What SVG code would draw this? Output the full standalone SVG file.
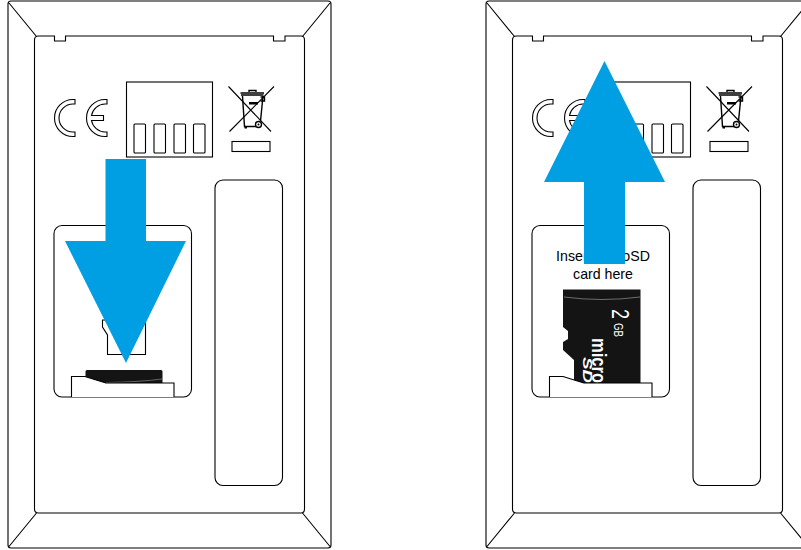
<svg xmlns="http://www.w3.org/2000/svg" width="801" height="550" viewBox="0 0 801 550">
<style>
.l{fill:none;stroke:#000;stroke-width:1.1}
.b{fill:none;stroke:#000;stroke-width:1.4}
.w{fill:#fff;stroke:#000;stroke-width:1.1}
.k{fill:#141414;stroke:none}
.a{fill:#009fe3;stroke:none}
.t{font-family:"Liberation Sans",Arial,sans-serif;font-size:14.2px;fill:#000;text-anchor:middle}
.c{font-family:"Liberation Sans",Arial,sans-serif;fill:#fff}
</style>
<defs>
<g id="panel">
<rect class="l" x="8" y="1" width="323" height="547" rx="3"/>
<path class="l" d="M9 3L36.500 36.500M330 3L302.500 36.500M9 546.500L36.500 513M330 546.500L302.500 513"/>
<path class="l" d="M38.500 36H54.500V41H65.500V36H273.500V41H285V36H301Q304.500 36 304.500 40V509Q304.500 513 301 513H38.500Q34.500 513 34.500 509V40Q34.500 36 38.500 36Z"/>
<path class="l" d="M75 99.500H73A18.500 18.500 0 0 0 73 136.500H75V132H73A14 14 0 0 1 73 104H75Z"/>
<path class="l" d="M107 99.500H105A18.500 18.500 0 0 0 105 136.500H107V132H105A14 14 0 0 1 91.500 120.500H103.500V115.500H91.500A14 14 0 0 1 105 104H107Z"/>
<rect class="l" x="126.500" y="82" width="86" height="75"/>
<rect class="l" x="134" y="124" width="11.500" height="29" rx="1"/>
<rect class="l" x="154" y="124" width="11.500" height="29" rx="1"/>
<rect class="l" x="174" y="124" width="11.500" height="29" rx="1"/>
<rect class="l" x="193.500" y="124" width="11.500" height="29" rx="1"/>
<path class="l" d="M228.500 86.500L271 131.500M274 86.500L229.500 131.500"/>
<path class="b" d="M241 95H263.500M240.500 93H264M242.500 96L244.500 126.500H256M263 96L260.500 121M249 92V90.500H256V92M260.500 97H264.500V101H260.500"/>
<rect x="249" y="102" width="9" height="2.500" fill="#000"/>
<rect x="244.500" y="126" width="2.500" height="2.500" fill="#000"/>
<circle class="b" cx="258.500" cy="124.500" r="3"/>
<circle cx="258.500" cy="124.500" r="1" fill="#000"/>
<rect class="l" x="232" y="141.500" width="38" height="10"/>
<rect class="l" x="215" y="180" width="67.500" height="305.500" rx="8"/>
<rect class="l" x="54" y="225.500" width="137.500" height="171.500" rx="8"/>
</g>
<clipPath id="cardClip"><rect x="555" y="285" width="90" height="98"/></clipPath>
</defs>

<g id="device-left">
<use href="#panel"/>
</g>
<g id="device-right">
<use href="#panel" x="478"/>
</g>

<g id="sd-left">
<path class="l" d="M107 320H102.500V327L107.500 335V354.500H145.500V320"/>
<path class="k" d="M85.500 371.500Q85.500 370 87 370H161Q162.500 370 162.500 371.500V383.500H85.500Z"/>
<path fill="none" stroke="#999" stroke-width=".6" d="M106 382.500Q140 382 162 379"/>
<path class="w" d="M71.500 397V376.500H85Q96 380 106 383H174V397"/>
</g>

<g id="sd-right">
<text class="t" x="603" y="261">Insert microSD</text>
<text class="t" x="603" y="279">card here</text>
<g clip-path="url(#cardClip)">
<path class="k" d="M563 289.500H640.500V385H574V360L563 350V342L568 339V331L563 327Z"/>
<path fill="none" stroke="#aaa" stroke-width=".6" d="M564 297Q602 302 640 297"/>
<text class="c" transform="translate(612 309) rotate(90)" font-size="23" textLength="10" lengthAdjust="spacingAndGlyphs">2</text>
<text class="c" transform="translate(613.500 323) rotate(90)" font-size="12" textLength="14" lengthAdjust="spacingAndGlyphs">GB</text>
<text class="c" transform="translate(592 338) rotate(90)" font-size="21" font-weight="700" textLength="45" lengthAdjust="spacingAndGlyphs">micro</text>
<text class="c" transform="translate(583 357) rotate(90)" font-size="13" font-weight="700" font-style="italic" textLength="26" lengthAdjust="spacingAndGlyphs">SD</text>
</g>
<path class="w" d="M549.500 397V376.500H563Q574 380 584 383H652V397"/>
</g>

<g id="connectors">
<path id="arrow-down" class="a" d="M105.500 159H146V241H186L126 363L65 241H105.500Z"/>
<path id="arrow-up" class="a" d="M584 264H625V182H665L604.500 61L544 182H584Z"/>
</g>
</svg>
